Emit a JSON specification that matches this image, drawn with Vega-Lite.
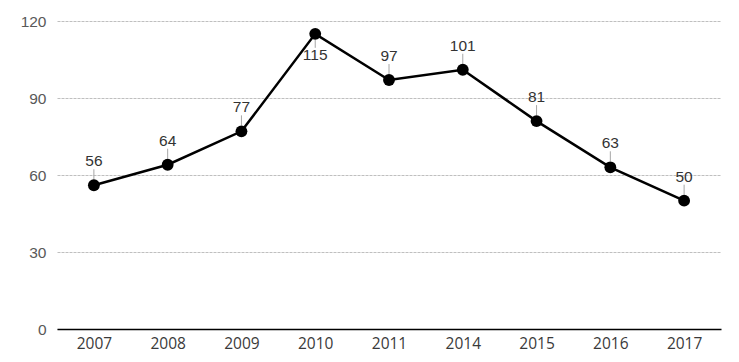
{
  "$schema": "https://vega.github.io/schema/vega-lite/v6.json",
  "width": 664,
  "height": 308,
  "autosize": "none",
  "padding": {"left": 57, "top": 21, "right": 18, "bottom": 33},
  "background": "white",
  "config": {"view": {"stroke": null}},
  "data": {"values": [
    {"year": "2007", "value": 56},
    {"year": "2008", "value": 64},
    {"year": "2009", "value": 77},
    {"year": "2010", "value": 115},
    {"year": "2011", "value": 97},
    {"year": "2014", "value": 101},
    {"year": "2015", "value": 81},
    {"year": "2016", "value": 63},
    {"year": "2017", "value": 50}
  ]},
  "encoding": {
    "x": {"field": "year", "type": "ordinal",
      "scale": {"type": "point", "padding": 0.5, "domain": ["2007", "2008", "2009", "2010", "2011", "2014", "2015", "2016", "2017"]},
      "axis": {"title": null, "labelAngle": 0, "ticks": false, "domainColor": "#000000", "domainWidth": 1.5,
        "labelFont": "Open Sans", "labelFontSize": 15.5, "labelColor": "#3a3a3a", "labelPadding": 7, "grid": false}},
    "y": {"field": "value", "type": "quantitative",
      "scale": {"domain": [0, 120], "nice": false},
      "axis": {"title": null, "values": [0, 30, 60, 90, 120], "domain": false, "ticks": false,
        "labelFont": "Liberation Sans", "labelFontSize": 15.5, "labelColor": "#595959", "labelPadding": 11,
        "gridColor": "#bfbfbf", "gridDash": [3, 1], "gridWidth": 1}}
  },
  "layer": [
    {"transform": [{"filter": "datum.year != '2010'"}],
     "mark": {"type": "rule", "color": "#a6a6a6", "strokeWidth": 1, "yOffset": -6, "y2Offset": -16},
     "encoding": {"y2": {"field": "value"}}},
    {"transform": [{"filter": "datum.year == '2010'"}],
     "mark": {"type": "rule", "color": "#a6a6a6", "strokeWidth": 1, "yOffset": 6, "y2Offset": 14},
     "encoding": {"y2": {"field": "value"}}},
    {"mark": {"type": "line", "color": "#000000", "strokeWidth": 2.5}, "encoding": {}},
    {"mark": {"type": "point", "filled": true, "color": "#000000", "opacity": 1, "size": 140}, "encoding": {}},
    {"transform": [{"filter": "datum.year != '2010'"}],
     "mark": {"type": "text", "font": "Liberation Sans", "fontSize": 15.5, "color": "#333333", "baseline": "middle", "dy": -24},
     "encoding": {"text": {"field": "value"}}},
    {"transform": [{"filter": "datum.year == '2010'"}],
     "mark": {"type": "text", "font": "Liberation Sans", "fontSize": 15.5, "color": "#333333", "baseline": "middle", "dy": 21},
     "encoding": {"text": {"field": "value"}}}
  ]
}
